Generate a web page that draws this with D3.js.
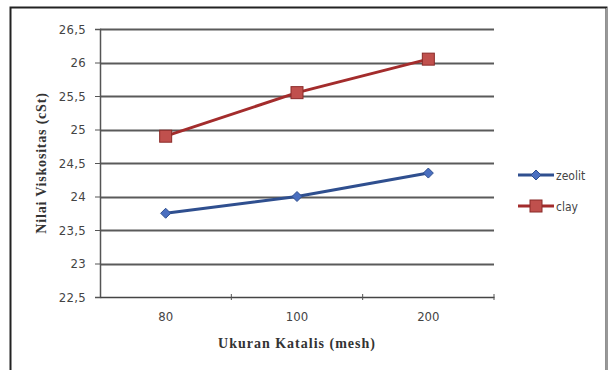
<!DOCTYPE html>
<html>
<head>
<meta charset="utf-8">
<script src="https://cdn.jsdelivr.net/npm/d3@7"></script>
<style>
  html, body { margin: 0; padding: 0; background: #fff; }
  svg { display: block; }
</style>
</head>
<body>
<svg id="chart" width="609" height="370"></svg>
<script>
// Catalyst size categories (mesh) and viscosity per catalyst type
const categories = ["80", "100", "200"];
const zeolit = [23.75, 24.0, 24.35];
const clay = [24.9, 25.55, 26.05];
const yTicks = [22.5, 23, 23.5, 24, 24.5, 25, 25.5, 26, 26.5];
const seriesNames = ["zeolit", "clay"];

const svg = d3.select("#chart");
const plot = { left: 100, right: 494, top: 29, bottom: 297 };
const sans = "DejaVu Sans Condensed, DejaVu Sans, sans-serif";

// outer frame
svg.append("rect").attr("x", 10.5).attr("y", 7.5).attr("width", 596).attr("height", 370)
  .attr("fill", "none").attr("stroke", "#222").attr("stroke-width", 2);
svg.append("line").attr("x1", 607).attr("x2", 607).attr("y1", 8).attr("y2", 370)
  .attr("stroke", "#999").attr("stroke-width", 2);

const x = d3.scaleBand().domain(categories).range([plot.left, plot.right]);
const y = d3.scaleLinear().domain([22.5, 26.5]).range([plot.bottom, plot.top]);

const fmt = d => String(d).replace(".", ",");

// horizontal gridlines
svg.append("g").selectAll("line").data(yTicks.filter(t => t > 22.5)).join("line")
  .attr("x1", plot.left).attr("x2", plot.right)
  .attr("y1", d => Math.round(y(d)) + 0.5).attr("y2", d => Math.round(y(d)) + 0.5)
  .attr("stroke", "#5a5a5a").attr("stroke-width", 1.8);

// y axis
const yAxis = svg.append("g").attr("transform", `translate(${plot.left},0)`)
  .call(d3.axisLeft(y).tickValues(yTicks).tickFormat(fmt).tickSize(5).tickPadding(9));
yAxis.select(".domain").attr("stroke", "#555").attr("stroke-width", 1.5);
yAxis.selectAll(".tick line").attr("stroke", "#555");
yAxis.selectAll("text").attr("font-family", sans)
  .attr("font-size", 13).attr("letter-spacing", 0.3).attr("fill", "#444");

// x axis
const xAxis = svg.append("g").attr("transform", `translate(0,${plot.bottom})`)
  .call(d3.axisBottom(x).tickSize(0).tickPadding(15));
xAxis.select(".domain").attr("stroke", "#444").attr("stroke-width", 1.6);
xAxis.selectAll("text").attr("font-family", sans)
  .attr("font-size", 13).attr("fill", "#444");
// category separators
svg.append("g").selectAll("line").data(categories).join("line")
  .attr("x1", d => x(d) + x.bandwidth()).attr("x2", d => x(d) + x.bandwidth())
  .attr("y1", plot.bottom - 3).attr("y2", plot.bottom + 3)
  .attr("stroke", "#555");

// axis titles
svg.append("text").attr("x", plot.left + (plot.right - plot.left) / 2).attr("y", 348)
  .attr("text-anchor", "middle").attr("font-family", "Liberation Serif, serif")
  .attr("font-weight", "bold").attr("font-size", 14).attr("letter-spacing", 1)
  .attr("fill", "#333").text("Ukuran Katalis (mesh)");
svg.append("text").attr("transform", `translate(46,${(plot.top + plot.bottom) / 2}) rotate(-90)`)
  .attr("text-anchor", "middle").attr("font-family", "Liberation Serif, serif")
  .attr("font-weight", "bold").attr("font-size", 14).attr("letter-spacing", 0.8)
  .attr("fill", "#333").text("Nilai Viskositas (cSt)");

const cx = d => x(d) + x.bandwidth() / 2;
const line = d3.line().x(d => cx(d.c)).y(d => y(d.v));

const series = [
  { name: seriesNames[0], values: zeolit, stroke: "#2f4f8f", fill: "#4a6fc0", shape: "diamond" },
  { name: seriesNames[1], values: clay, stroke: "#a32c2c", fill: "#c0504d", shape: "square" }
];

function marker(g, shape, fill, stroke) {
  if (shape === "square") {
    g.append("rect").attr("x", -6).attr("y", -6).attr("width", 12).attr("height", 12)
      .attr("fill", fill).attr("stroke", "#8a2a28").attr("stroke-width", 1);
  } else {
    g.append("path").attr("d", "M0,-5L5,0L0,5L-5,0Z")
      .attr("fill", fill).attr("stroke", stroke).attr("stroke-width", 1);
  }
}

series.forEach(s => {
  const pts = categories.map((c, i) => ({ c, v: s.values[i] }));
  svg.append("path").datum(pts).attr("d", line).attr("fill", "none")
    .attr("stroke", s.stroke).attr("stroke-width", 3);
  pts.forEach(p => {
    const g = svg.append("g").attr("transform", `translate(${cx(p.c)},${y(p.v)})`);
    marker(g, s.shape, s.fill, s.stroke);
  });
});

// legend
series.forEach((s, i) => {
  const ly = 175 + i * 31;
  svg.append("line").attr("x1", 518).attr("x2", 554).attr("y1", ly).attr("y2", ly)
    .attr("stroke", s.stroke).attr("stroke-width", 3);
  const g = svg.append("g").attr("transform", `translate(536,${ly})`);
  marker(g, s.shape, s.fill, s.stroke);
  svg.append("text").attr("x", 556).attr("y", ly + 4.5)
    .attr("font-family", sans)
    .attr("font-size", 12).attr("fill", "#444").text(s.name);
});
</script>
</body>
</html>
